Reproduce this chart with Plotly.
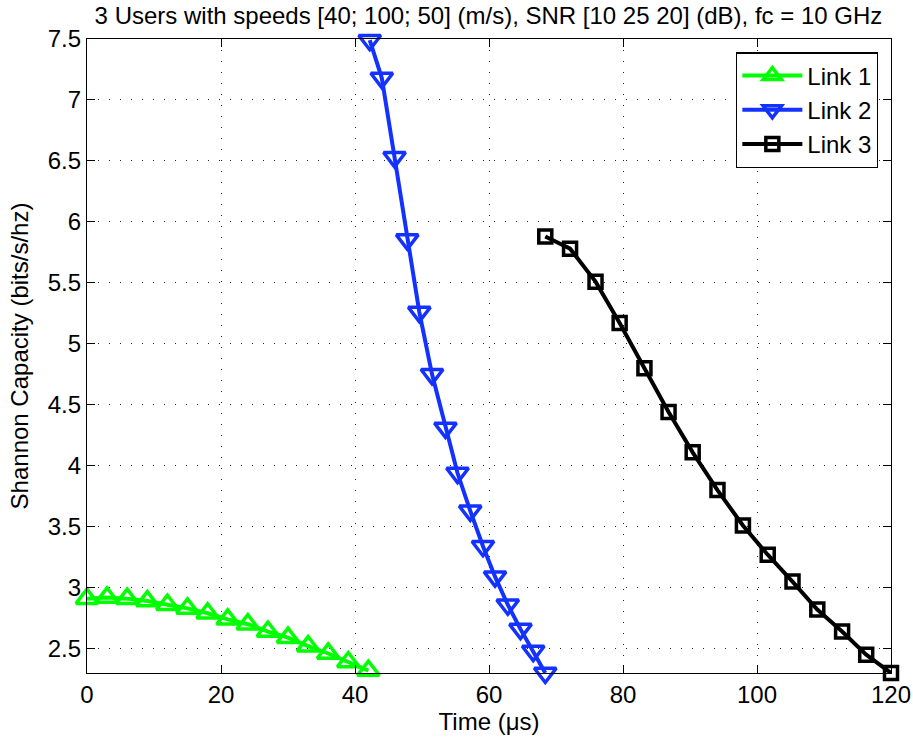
import plotly.graph_objects as go

link1_x = [0, 3, 6, 9, 12, 15, 18, 21, 24, 27, 30, 33, 36, 39, 42]
link1_y = [2.91, 2.92, 2.91, 2.89, 2.86, 2.83, 2.79, 2.74, 2.70, 2.64, 2.59, 2.52, 2.46, 2.39, 2.32]

link2_x = [42.2, 44.0, 45.9, 47.8, 49.6, 51.5, 53.5, 55.3, 57.2, 59.1, 60.9, 62.8, 64.7, 66.6, 68.4]
link2_y = [7.49, 7.18, 6.53, 5.855, 5.26, 4.75, 4.31, 3.94, 3.63, 3.34, 3.09, 2.86, 2.66, 2.48, 2.30]

link3_x = [68.4, 72.1, 75.9, 79.5, 83.2, 86.8, 90.4, 94.1, 97.9, 101.6, 105.3, 109.0, 112.7, 116.3, 120.0]
link3_y = [5.88, 5.78, 5.51, 5.17, 4.80, 4.44, 4.11, 3.80, 3.51, 3.27, 3.05, 2.82, 2.64, 2.45, 2.30]

names = ["Link 1", "Link 2", "Link 3"]
x_ticks = [0, 20, 40, 60, 80, 100, 120]
y_ticks = [2.5, 3, 3.5, 4, 4.5, 5, 5.5, 6, 6.5, 7, 7.5]
y_ticklabels = ["2.5", "3", "3.5", "4", "4.5", "5", "5.5", "6", "6.5", "7", "7.5"]

FONT = "Liberation Sans, Arial, Helvetica, sans-serif"
FS = 24

fig = go.Figure()
styles = [
    dict(color="#00FF00", symbol="triangle-up-open", size=19),
    dict(color="#1432FF", symbol="triangle-down-open", size=19),
    dict(color="#000000", symbol="square-open", size=13),
]
for (xs, ys), name, st in zip([(link1_x, link1_y), (link2_x, link2_y), (link3_x, link3_y)], names, styles):
    fig.add_trace(go.Scatter(
        x=xs, y=ys, name=name, mode="lines+markers",
        line=dict(color=st["color"], width=4),
        marker=dict(symbol=st["symbol"], size=st["size"], color=st["color"],
                    line=dict(width=3.5, color=st["color"])),
        cliponaxis=False,
    ))

axis_common = dict(
    showline=True, linecolor="black", linewidth=1.2, mirror="ticks",
    ticks="inside", ticklen=8, tickcolor="black", tickwidth=1,
    showgrid=True, gridcolor="#222222", gridwidth=1, griddash="1px,10px",
    zeroline=False, tickfont=dict(family=FONT, size=FS, color="black"),
    automargin=False,
)

fig.update_layout(
    width=913, height=744,
    paper_bgcolor="white", plot_bgcolor="white",
    margin=dict(l=87, r=22, t=39, b=71),
    title=dict(text="3 Users with speeds [40; 100; 50] (m/s), SNR [10 25 20] (dB), fc = 10 GHz",
               x=0.535, xref="container", xanchor="center", y=1 - 16 / 744, yref="container", yanchor="middle",
               font=dict(family=FONT, size=FS, color="black")),
    xaxis=dict(range=[0, 120], tickvals=x_ticks,
               title=dict(text="Time (μs)", font=dict(family=FONT, size=FS, color="black"), standoff=0),
               **axis_common),
    yaxis=dict(range=[2.30, 7.5], tickvals=y_ticks, ticktext=y_ticklabels,
               title=dict(text="Shannon Capacity (bits/s/hz)", font=dict(family=FONT, size=FS, color="black"), standoff=12),
               **axis_common),
    legend=dict(x=0.984, y=0.979, xanchor="right", yanchor="top",
                bgcolor="white", bordercolor="black", borderwidth=1.2,
                font=dict(family=FONT, size=FS, color="black"),
                itemwidth=60, tracegroupgap=0),
    showlegend=True,
)

fig.write_html("out.html")
